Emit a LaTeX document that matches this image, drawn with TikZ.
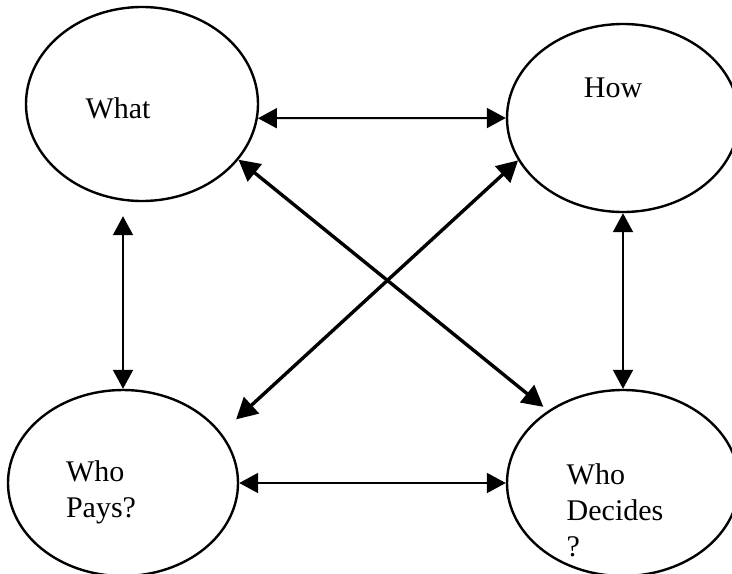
\documentclass[tikz,border=0pt]{standalone}
\usepackage{fontspec}
\setmainfont{Liberation Serif}
\usetikzlibrary{arrows.meta,shapes.geometric}

\begin{document}
\begin{tikzpicture}[
  x=0.5pt, y=-0.5pt,
  >={Triangle[length=9.5pt,width=10pt]},
  oval/.style={draw, ellipse, line width=1.2pt, inner sep=0pt},
  txt/.style={font=\fontsize{15}{18}\selectfont, align=left},
  link/.style={<->, line width=1pt},
  cross/.style={{Triangle[length=10.5pt,width=11pt]}-{Triangle[length=10.5pt,width=11pt]},
                line width=1.7pt}
]
\useasboundingbox (0,0) rectangle (732,573);
\node[oval, minimum width=116pt, minimum height=97pt,
  label={[txt, xshift=-12pt, yshift=-2pt]center:What}] (what) at (142,104) {};
\node[oval, minimum width=116pt, minimum height=94pt,
  label={[txt, xshift=-5pt, yshift=15pt]center:How}] (how) at (623,118) {};
\node[oval, minimum width=115pt, minimum height=93pt,
  label={[txt, xshift=-11pt, yshift=-4.5pt]center:{Who\\Pays?}}] (whopays) at (123,483) {};
\node[oval, minimum width=116pt, minimum height=93pt,
  label={[txt, xshift=-4pt, yshift=-13.5pt]center:{Who\\Decides\\?}}] (whodecides) at (623,483) {};

\draw[link] (what.-7) -- (how.west);
\draw[link, shorten <=7pt] (what.south -| whopays.north) -- (whopays.north);
\draw[link] (how.south) -- (whodecides.north);
\draw[link] (whopays.east) -- (whodecides.west);
\draw[cross, shorten >=3pt] (what.-30) -- (whodecides.136);
\draw[cross, shorten >=10pt] (how.202) -- (whopays.27);
\end{tikzpicture}
\end{document}
